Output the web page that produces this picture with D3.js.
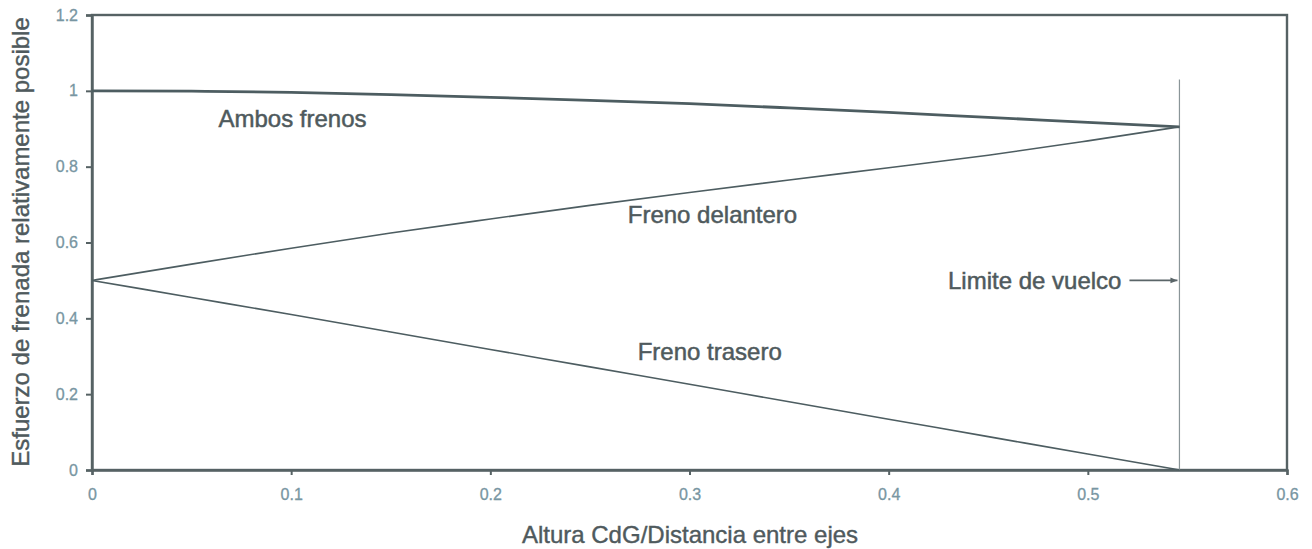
<!DOCTYPE html>
<html><head><meta charset="utf-8">
<script src="https://cdn.jsdelivr.net/npm/d3@7"></script>
<style>
html,body{margin:0;padding:0;background:#fff;}
svg{display:block;font-family:"Liberation Sans",Arial,sans-serif;}
</style></head>
<body><svg id="c" width="1312" height="549"></svg>
<script>
// Data
const xValues     = [0, 0.05, 0.1, 0.15, 0.2, 0.25, 0.3, 0.35, 0.4, 0.45, 0.5, 0.546];
const ambosFrenos = [1.0, 0.999, 0.996, 0.99, 0.983, 0.975, 0.966, 0.955, 0.943, 0.93, 0.917, 0.905];
const frenoDelantero = [0.5, 0.543, 0.585, 0.625, 0.662, 0.698, 0.732, 0.765, 0.797, 0.83, 0.868, 0.905];
const frenoTrasero = [0.5, 0.455, 0.41, 0.364, 0.318, 0.272, 0.226, 0.18, 0.134, 0.088, 0.042, 0.0];
const limiteVuelco = 0.546;
const limiteLabelY = 0.5;
const xTicks = [0, 0.1, 0.2, 0.3, 0.4, 0.5, 0.6];
const yTicks = [0, 0.2, 0.4, 0.6, 0.8, 1, 1.2];
const labels = [
  {text: "Ambos frenos", x: 0.0635, y: 0.928},
  {text: "Freno delantero", x: 0.269, y: 0.673},
  {text: "Freno trasero", x: 0.274, y: 0.311}
];

const svg = d3.select("#c");
const m = {l: 92, r: 1287, t: 15, b: 470};
const x = d3.scaleLinear().domain([0, 0.6]).range([m.l, m.r]);
const y = d3.scaleLinear().domain([0, 1.2]).range([m.b, m.t]);

const axisCol = "#566264";
const lineCol = "#4d5d61";
const tickTxt = "#7896a2";
const txtCol = "#4f5a5d";
const fnt = "Liberation Sans, Arial, sans-serif";

// frame
svg.append("rect").attr("x", m.l).attr("y", m.t).attr("width", m.r - m.l).attr("height", m.b - m.t)
  .attr("fill", "none").attr("stroke", axisCol).attr("stroke-width", 2.4);

// axes
const xAxis = svg.append("g").attr("transform", `translate(0,${m.b})`)
  .call(d3.axisBottom(x).tickValues(xTicks).tickSize(5).tickPadding(14).tickFormat(d => d3.format("")(d)));
const yAxis = svg.append("g").attr("transform", `translate(${m.l},0)`)
  .call(d3.axisLeft(y).tickValues(yTicks).tickSize(6).tickPadding(8).tickFormat(d => d3.format("")(d)));
[xAxis, yAxis].forEach(g => {
  g.select(".domain").attr("stroke", axisCol).attr("stroke-width", 2.4);
  g.selectAll(".tick line").attr("stroke", axisCol).attr("stroke-width", 2);
  g.selectAll(".tick text").attr("fill", tickTxt).attr("font-size", 16).attr("font-family", fnt)
    .attr("stroke", tickTxt).attr("stroke-width", 0.3);
});

// limit line
svg.append("line").attr("x1", x(limiteVuelco)).attr("x2", x(limiteVuelco))
  .attr("y1", y(1.03)).attr("y2", y(0)).attr("stroke", "#8a9598").attr("stroke-width", 1.2);

// series
const line = d3.line().x((d, i) => x(xValues[i])).y(d => y(d)).curve(d3.curveMonotoneX);
svg.append("path").attr("d", line(ambosFrenos)).attr("fill", "none").attr("stroke", lineCol).attr("stroke-width", 2.8);
svg.append("path").attr("d", line(frenoDelantero)).attr("fill", "none").attr("stroke", lineCol).attr("stroke-width", 1.6);
svg.append("path").attr("d", line(frenoTrasero)).attr("fill", "none").attr("stroke", lineCol).attr("stroke-width", 1.6);

// labels
labels.forEach(l => {
  svg.append("text").attr("x", x(l.x)).attr("y", y(l.y)).attr("dy", "0.35em")
    .attr("fill", txtCol).attr("stroke", txtCol).attr("stroke-width", 0.5)
    .attr("font-size", 24).text(l.text);
});

// limite de vuelco label + arrow
svg.append("defs").append("marker").attr("id", "arr").attr("viewBox", "0 0 10 10")
  .attr("refX", 10).attr("refY", 5).attr("markerWidth", 16).attr("markerHeight", 7).attr("orient", "auto")
  .attr("markerUnits", "userSpaceOnUse")
  .append("path").attr("d", "M0,1 L10,5 L0,9 Z").attr("fill", "#5a6568");
svg.append("text").attr("x", x(limiteVuelco) - 58).attr("y", y(limiteLabelY)).attr("dy", "0.35em")
  .attr("text-anchor", "end").attr("fill", txtCol).attr("stroke", txtCol).attr("stroke-width", 0.5)
  .attr("font-size", 24).text("Limite de vuelco");
svg.append("line").attr("x1", x(limiteVuelco) - 50).attr("x2", x(limiteVuelco) - 2)
  .attr("y1", y(limiteLabelY)).attr("y2", y(limiteLabelY))
  .attr("stroke", "#5a6568").attr("stroke-width", 1.6).attr("marker-end", "url(#arr)");

// axis titles
svg.append("text").attr("x", 690).attr("y", 543).attr("text-anchor", "middle")
  .attr("fill", txtCol).attr("stroke", txtCol).attr("stroke-width", 0.4)
  .attr("font-size", 24).text("Altura CdG/Distancia entre ejes");
svg.append("text").attr("transform", "translate(29,242) rotate(-90)").attr("text-anchor", "middle")
  .attr("fill", txtCol).attr("stroke", txtCol).attr("stroke-width", 0.4)
  .attr("font-size", 24).text("Esfuerzo de frenada relativamente posible");
</script></body></html>
